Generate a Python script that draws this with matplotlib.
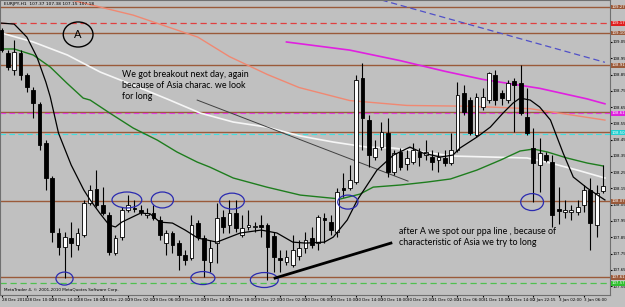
import numpy as np
import matplotlib
matplotlib.use("Agg")
import matplotlib.pyplot as plt
from matplotlib.patches import Ellipse

# EURJPY H1 candles, 96 bars
opens = [109.123, 108.982, 108.878, 108.982, 108.847, 108.755, 108.669, 108.429, 108.214, 107.876,
         107.790, 107.845, 107.802, 107.863, 108.060, 108.146, 108.048, 107.986, 107.753, 107.851,
         108.017, 108.029, 108.017, 107.986, 107.999, 107.956, 107.814, 107.876, 107.814, 107.741,
         107.722, 107.937, 107.845, 107.698, 107.814, 107.974, 107.925, 107.999, 107.863, 107.913,
         107.913, 107.925, 107.925, 107.857, 107.722, 107.698, 107.679, 107.734, 107.784, 107.845,
         107.814, 107.968, 107.943, 107.882, 108.152, 108.152, 108.189, 108.828, 108.570, 108.343,
         108.404, 108.490, 108.251, 108.374, 108.300, 108.312, 108.374, 108.355, 108.343, 108.324,
         108.337, 108.306, 108.386, 108.736, 108.693, 108.478, 108.650, 108.693, 108.847, 108.736,
         108.693, 108.810, 108.798, 108.589, 108.398, 108.294, 108.355, 108.312, 108.023, 108.005,
         108.005, 108.005, 108.048, 108.140, 107.925, 108.134]
highs = [109.136, 109.000, 109.062, 109.000, 108.859, 108.773, 108.681, 108.447, 108.226, 107.906,
         107.882, 107.943, 107.906, 108.079, 108.171, 108.263, 108.158, 108.005, 107.863, 108.036,
         108.109, 108.079, 108.048, 108.029, 108.048, 107.980, 107.894, 107.888, 107.833, 107.771,
         107.986, 107.956, 107.863, 107.833, 108.060, 108.017, 108.079, 108.079, 107.986, 108.017,
         107.943, 107.986, 107.937, 107.882, 107.771, 107.771, 107.863, 107.833, 107.882, 107.913,
         107.986, 107.999, 107.986, 108.152, 108.244, 108.294, 108.847, 108.921, 108.601, 108.447,
         108.558, 108.583, 108.386, 108.398, 108.386, 108.429, 108.398, 108.447, 108.386, 108.374,
         108.386, 108.490, 108.804, 108.785, 108.712, 108.736, 108.767, 108.865, 108.878, 108.755,
         108.816, 108.828, 108.908, 108.767, 108.521, 108.460, 108.374, 108.355, 108.158, 108.079,
         108.048, 108.079, 108.171, 108.214, 108.171, 108.294]
lows = [108.988, 108.878, 108.847, 108.816, 108.742, 108.583, 108.386, 108.140, 107.820, 107.741,
        107.599, 107.728, 107.771, 107.851, 108.048, 108.036, 107.986, 107.741, 107.741, 107.833,
        108.005, 108.005, 107.986, 107.968, 107.956, 107.833, 107.741, 107.753, 107.648, 107.679,
        107.710, 107.833, 107.605, 107.636, 107.691, 107.876, 107.876, 107.882, 107.851, 107.894,
        107.882, 107.851, 107.587, 107.636, 107.636, 107.679, 107.667, 107.710, 107.753, 107.784,
        107.771, 107.814, 107.863, 107.851, 108.097, 108.140, 108.177, 108.386, 108.281, 108.324,
        108.386, 108.220, 108.232, 108.263, 108.263, 108.300, 108.288, 108.324, 108.263, 108.251,
        108.288, 108.294, 108.374, 108.601, 108.478, 108.466, 108.632, 108.675, 108.662, 108.662,
        108.675, 108.496, 108.601, 108.478, 108.066, 108.128, 108.312, 107.913, 107.931, 107.968,
        107.956, 107.986, 108.005, 107.771, 107.851, 108.122]
closes = [109.000, 108.896, 108.988, 108.847, 108.773, 108.675, 108.417, 108.214, 107.882, 107.790,
          107.851, 107.814, 107.876, 108.060, 108.140, 108.048, 107.999, 107.759, 107.845, 108.017,
          108.048, 108.023, 108.005, 107.999, 107.968, 107.863, 107.876, 107.802, 107.741, 107.710,
          107.925, 107.851, 107.710, 107.784, 107.968, 107.913, 107.999, 107.906, 107.906, 107.925,
          107.919, 107.913, 107.790, 107.728, 107.710, 107.728, 107.771, 107.784, 107.833, 107.802,
          107.974, 107.956, 107.894, 108.128, 108.140, 108.201, 108.816, 108.583, 108.355, 108.398,
          108.496, 108.251, 108.367, 108.281, 108.337, 108.386, 108.343, 108.374, 108.312, 108.343,
          108.306, 108.386, 108.724, 108.619, 108.490, 108.712, 108.712, 108.859, 108.693, 108.705,
          108.798, 108.785, 108.613, 108.490, 108.306, 108.367, 108.324, 107.986, 108.011, 108.017,
          108.017, 108.036, 108.140, 107.937, 108.122, 108.165]

# moving averages, sampled (bar index, price)
fast_ma_x = [0, 2, 4, 5.6, 7, 7.7, 9, 11, 13, 14, 15.5, 17, 18, 19, 22, 23.5, 25, 27, 29, 31,
             34, 37.7, 41, 43.5, 46, 48, 51, 52.4, 54.6, 56.2, 59.3, 61.9, 64.5, 66.6, 69.3,
             71.3, 72.4, 75.1, 77.2, 79.2, 80.8, 81.9, 83.5, 85, 86.7, 88.7, 90.3, 92.5, 94.6, 95.3]
fast_ma_y = [109.166, 109.160, 109.080, 108.957, 108.804, 108.712, 108.490, 108.294, 108.140, 108.079,
             107.999, 107.925, 107.913, 107.943, 107.999, 107.993, 107.943, 107.937, 107.894, 107.845,
             107.820, 107.876, 107.894, 107.876, 107.820, 107.814, 107.820, 107.851, 107.956, 108.079,
             108.263, 108.355, 108.404, 108.367, 108.343, 108.355, 108.398, 108.466, 108.527, 108.613,
             108.675, 108.705, 108.693, 108.650, 108.570, 108.367, 108.220, 108.152, 108.097, 108.079]

green_ma_x = [0, 2, 5, 7.7, 10.3, 12.9, 14, 17.1, 20.8, 24.6, 27.7, 30.9, 32.9, 36.6, 41.9, 47.2,
              53.5, 56.6, 58.7, 63, 67.2, 70.9, 75.1, 78.8, 81.9, 84, 86.2, 89.3, 92.5, 95]
green_ma_y = [109.007, 109.007, 108.970, 108.896, 108.798, 108.705, 108.693, 108.613, 108.521, 108.447,
              108.374, 108.312, 108.281, 108.214, 108.158, 108.109, 108.085, 108.115, 108.158, 108.171,
              108.189, 108.208, 108.263, 108.324, 108.380, 108.392, 108.374, 108.337, 108.306, 108.288]

white_ma_x = [0, 5, 10.4, 15.6, 20.8, 26.2, 31.4, 36.6, 41.9, 47.2, 52.4, 57.7, 61.9, 71.3, 83,
              86.7, 90.9, 95.3]
white_ma_y = [109.105, 109.050, 108.970, 108.865, 108.785, 108.699, 108.613, 108.558, 108.527, 108.472,
              108.435, 108.404, 108.398, 108.349, 108.337, 108.306, 108.263, 108.214]

salmon_ma_x = [11, 20.8, 31, 36, 42, 47, 55, 64, 74, 83.5, 95.3]
salmon_ma_y = [109.308, 109.215, 109.080, 108.960, 108.850, 108.770, 108.690, 108.660, 108.655, 108.640, 108.570]

magenta_ma_x = [45, 55, 63, 70, 76, 85, 92.5, 95.3]
magenta_ma_y = [109.050, 109.000, 108.935, 108.870, 108.820, 108.765, 108.700, 108.670]

blue_ma_x = [60, 95.3]
blue_ma_y = [109.308, 108.925]

# horizontal levels
brown_levels = [109.265, 109.105, 108.908, 108.619, 108.496, 108.072, 107.605]
red_dash_level = 109.166
magenta_dash_level = 108.613
cyan_dash_level = 108.484
green_dash_level = 107.568

price_ticks = [107.55, 107.65, 107.75, 107.85, 107.95, 108.05, 108.15, 108.25,
               108.35, 108.45, 108.55, 108.65, 108.75, 108.85, 108.95, 109.05]
level_tags = [("109.27", 109.265, "#9a5a3a"), ("109.17", 109.166, "#e02020"),
              ("109.10", 109.105, "#9a5a3a"), ("108.91", 108.908, "#9a5a3a"),
              ("108.61", 108.613, "#e020e0"), ("108.50", 108.492, "#20d0d0"),
              ("108.07", 108.072, "#9a5a3a"), ("107.61", 107.605, "#9a5a3a"),
              ("107.57", 107.568, "#30c030")]

time_ticks = list(range(0, 96, 4))
time_labels = ["28 Dec 2010", "28 Dec 10:00", "28 Dec 14:00", "28 Dec 18:00", "28 Dec 22:00",
               "29 Dec 02:00", "29 Dec 06:00", "29 Dec 10:00", "29 Dec 14:00", "29 Dec 18:00",
               "29 Dec 22:00", "30 Dec 02:00", "30 Dec 06:00", "30 Dec 10:00", "30 Dec 14:00",
               "30 Dec 18:00", "30 Dec 22:00", "31 Dec 02:00", "31 Dec 06:00", "31 Dec 10:00",
               "31 Dec 14:00", "2 Jan 22:15", "3 Jan 02:00", "3 Jan 06:00"]

BG = "#c0c0c0"
BROWN = "#9a5a3a"
BLUE_CIRCLE = "#2a2ab0"
SMALL = ["Liberation Sans Narrow", "DejaVu Sans"]

fig = plt.figure(figsize=(6.25, 3.07), dpi=100, facecolor=BG)
ax = fig.add_axes([0, 12 / 307, 610 / 625, 295 / 307])
ax.set_facecolor(BG)
ax.set_xlim(-0.24, 96.1)
ax.set_ylim(107.495, 109.308)

# levels
for lv in brown_levels:
    ax.axhline(lv, color=BROWN, lw=1.0, zorder=1)
ax.axhline(red_dash_level, color="#e04040", lw=0.9, ls=(0, (5, 3)), zorder=1)
ax.axhline(magenta_dash_level, color="#e040e0", lw=0.8, ls=(0, (5, 3)), zorder=1)
ax.axhline(cyan_dash_level, color="#40e0e0", lw=0.8, ls=(0, (5, 3)), zorder=1)
ax.axhline(green_dash_level, color="#50c050", lw=0.9, ls=(0, (5, 3)), zorder=1)

# moving averages
ax.plot(salmon_ma_x, salmon_ma_y, color="#f08872", lw=1.0, zorder=2)
ax.plot(magenta_ma_x, magenta_ma_y, color="#e020e0", lw=1.2, zorder=2)
ax.plot(blue_ma_x, blue_ma_y, color="#5050c8", lw=0.9, ls=(0, (5, 3)), zorder=2)
ax.plot(white_ma_x, white_ma_y, color="#f6f6f6", lw=1.2, zorder=2)
ax.plot(green_ma_x, green_ma_y, color="#1e7d1e", lw=1.0, zorder=2)

# trendline
ax.plot([30.9, 64.2], [108.693, 108.195], color="#404040", lw=0.7, zorder=2)

# candles
idx = np.arange(len(opens))
o = np.array(opens)
c = np.array(closes)
ax.vlines(idx, lows, highs, color="black", lw=0.8, zorder=3)
bottoms = np.minimum(o, c)
heights = np.maximum(np.abs(c - o), 0.003)
colors = ["white" if cc >= oo else "black" for oo, cc in zip(o, c)]
ax.bar(idx, heights, bottom=bottoms, width=0.6, color=colors, edgecolor="black",
       linewidth=0.6, zorder=4)

ax.plot(fast_ma_x, fast_ma_y, color="black", lw=0.9, zorder=5)

# annotations
for cx, cy, w, h in [(9.95, 107.596, 2.7, 0.080), (19.8, 108.079, 4.7, 0.098),
                     (25.4, 108.079, 3.5, 0.098), (31.8, 107.599, 3.8, 0.080),
                     (36.4, 108.072, 3.9, 0.098), (41.5, 107.587, 4.4, 0.092),
                     (54.7, 108.066, 3.2, 0.086), (83.8, 108.066, 3.6, 0.104)]:
    ax.add_patch(Ellipse((cx, cy), w, h, fill=False, ec=BLUE_CIRCLE, lw=0.9, zorder=6))
ax.add_patch(Ellipse((12.1, 109.096), 4.7, 0.154, fill=False, ec="black", lw=1.0, zorder=6))
ax.text(12.1, 109.096, "A", ha="center", va="center", fontsize=8, family="Lato", zorder=7)

ax.plot([43.2, 61.5], [107.599, 107.814], color="black", lw=2.0, zorder=6)

ax.text(19.0, 108.878, "We got breakout next day, again\nbecause of Asia charac. we look\nfor long",
        fontsize=6.4, family="Lato", va="top", ha="left", linespacing=1.3, zorder=7)
ax.text(62.8, 107.913, "after A we spot our ppa line , because of\ncharacteristic of Asia we try to long",
        fontsize=6.4, family="Lato", va="top", ha="left", linespacing=1.3, zorder=7)

fig.text(4 / 625, 1 - 4 / 307, "EURJPY,H1  107.37 107.38 107.15 107.18", fontsize=3.2,
         va="center", ha="left", family=SMALL)
fig.text(4 / 625, 1 - 290 / 307, "MetaTrader 4, \u00a9 2001-2010 MetaQuotes Software Corp.",
         fontsize=3.0, va="center", ha="left", family=SMALL)

# axes styling
for s in ax.spines.values():
    s.set_color("#707070")
    s.set_linewidth(0.8)
ax.yaxis.tick_right()
ax.set_yticks(price_ticks)
ax.set_yticklabels([f"{p:.2f}" for p in price_ticks], family=SMALL)
ax.tick_params(axis="y", labelsize=2.8, length=1.2, pad=0.6, colors="black")
ax.set_xticks(time_ticks)
ax.set_xticklabels(time_labels, ha="left", family=SMALL)
ax.tick_params(axis="x", labelsize=2.9, length=1.5, pad=0.8)

tr = ax.get_yaxis_transform()
for txt, lv, col in level_tags:
    ax.text(1.002, lv, txt, transform=tr, fontsize=2.8, color="white", va="center", ha="left",
            family=SMALL, bbox=dict(facecolor=col, edgecolor="none", pad=0.3), zorder=8,
            clip_on=False)

fig.savefig("out.png", dpi=100, facecolor=BG)
